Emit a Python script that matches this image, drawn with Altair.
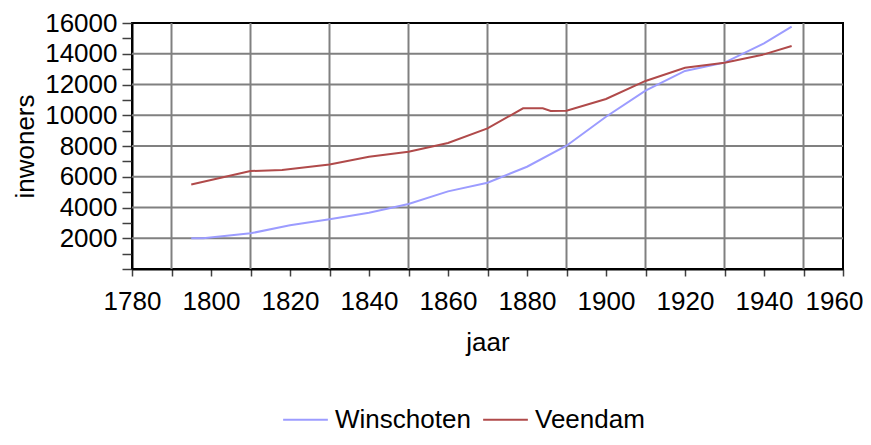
import altair as alt
import pandas as pd

years_w = [1795, 1798, 1810, 1820, 1830, 1840, 1850, 1860, 1870, 1880, 1890, 1900, 1910, 1920, 1930, 1940, 1947]
winschoten = [2000, 2000, 2320, 2850, 3230, 3660, 4230, 5050, 5610, 6650, 8020, 9900, 11600, 12880, 13420, 14680, 15760]

years_v = [1795, 1810, 1818, 1830, 1840, 1850, 1860, 1870, 1879, 1884, 1886, 1890, 1900, 1910, 1920, 1930, 1940, 1947]
veendam = [5500, 6370, 6440, 6800, 7300, 7630, 8200, 9150, 10450, 10450, 10280, 10300, 11060, 12230, 13090, 13420, 13960, 14500]

series = ["Winschoten", "Veendam"]
colors = ["#9c9cff", "#b04a4a"]

x_grid = [1790, 1810, 1830, 1850, 1870, 1890, 1910, 1930, 1950]
y_grid = [2000, 4000, 6000, 8000, 10000, 12000, 14000]
x_ticks = list(range(1780, 1961, 10))
y_ticks = list(range(0, 16001, 1000))

df = pd.concat([
    pd.DataFrame({"jaar": years_w, "inwoners": winschoten, "plaats": "Winschoten"}),
    pd.DataFrame({"jaar": years_v, "inwoners": veendam, "plaats": "Veendam"}),
])

FONT = "Liberation Sans"

xscale = alt.Scale(domain=[1780, 1960], nice=False, zero=False)
yscale = alt.Scale(domain=[0, 16000], nice=False)

xaxis = alt.Axis(values=x_ticks, labelExpr="datum.value % 20 == 0 ? datum.label : ''",
                 format="d", grid=False, domainColor="black", domainWidth=2,
                 tickColor="#404040", tickSize=7, tickWidth=1.5,
                 labelFontSize=26, labelFont=FONT, labelColor="black", labelPadding=12,
                 labelOffset={"condition": {"test": "datum.value == 1960", "value": -9}, "value": 0},
                 titleFontSize=26, titleFont=FONT, titleFontWeight="normal",
                 titleColor="black", titlePadding=15, labelFlush=False, labelOverlap=False)
yaxis = alt.Axis(values=y_ticks,
                 labelExpr="(datum.value % 2000 == 0 && datum.value > 0) ? datum.label : ''",
                 format="d", grid=False, domainColor="black", domainWidth=2,
                 tickColor="#404040", tickSize=10, tickWidth=1.5,
                 labelFontSize=26, labelFont=FONT, labelColor="black", labelPadding=5,
                 titleFontSize=26, titleFont=FONT, titleFontWeight="normal",
                 titleColor="black", titlePadding=6, labelFlush=False, labelOverlap=False)

vgrid = alt.Chart(pd.DataFrame({"jaar": x_grid})).mark_rule(color="#808080", strokeWidth=2).encode(
    x=alt.X("jaar:Q", scale=xscale, axis=xaxis, title="jaar")
)
hgrid = alt.Chart(pd.DataFrame({"inwoners": y_grid})).mark_rule(color="#808080", strokeWidth=2).encode(
    y=alt.Y("inwoners:Q", scale=yscale, axis=yaxis, title="inwoners")
)

lines = alt.Chart(df).mark_line(strokeWidth=2).encode(
    x=alt.X("jaar:Q", scale=xscale, axis=xaxis, title="jaar"),
    y=alt.Y("inwoners:Q", scale=yscale, axis=yaxis, title="inwoners"),
    color=alt.Color("plaats:N", scale=alt.Scale(domain=series, range=colors),
                    legend=alt.Legend(title=None, orient="none", legendX=150, legendY=373,
                                      direction="horizontal", symbolType="stroke",
                                      symbolSize=2000, symbolStrokeWidth=2, padding=0,
                                      labelFontSize=26, labelFont=FONT, labelColor="black",
                                      columnPadding=8, labelOffset=6)),
)

chart = alt.layer(vgrid, hgrid, lines).properties(
    width=711, height=246,
    autosize=alt.AutoSizeParams(type="none"),
    padding={"left": 124, "top": 15, "right": 20, "bottom": 168},
    background="white",
).configure_view(stroke="black", strokeWidth=2)

chart.save("out.html", embed_options={"renderer": "svg", "actions": False})
